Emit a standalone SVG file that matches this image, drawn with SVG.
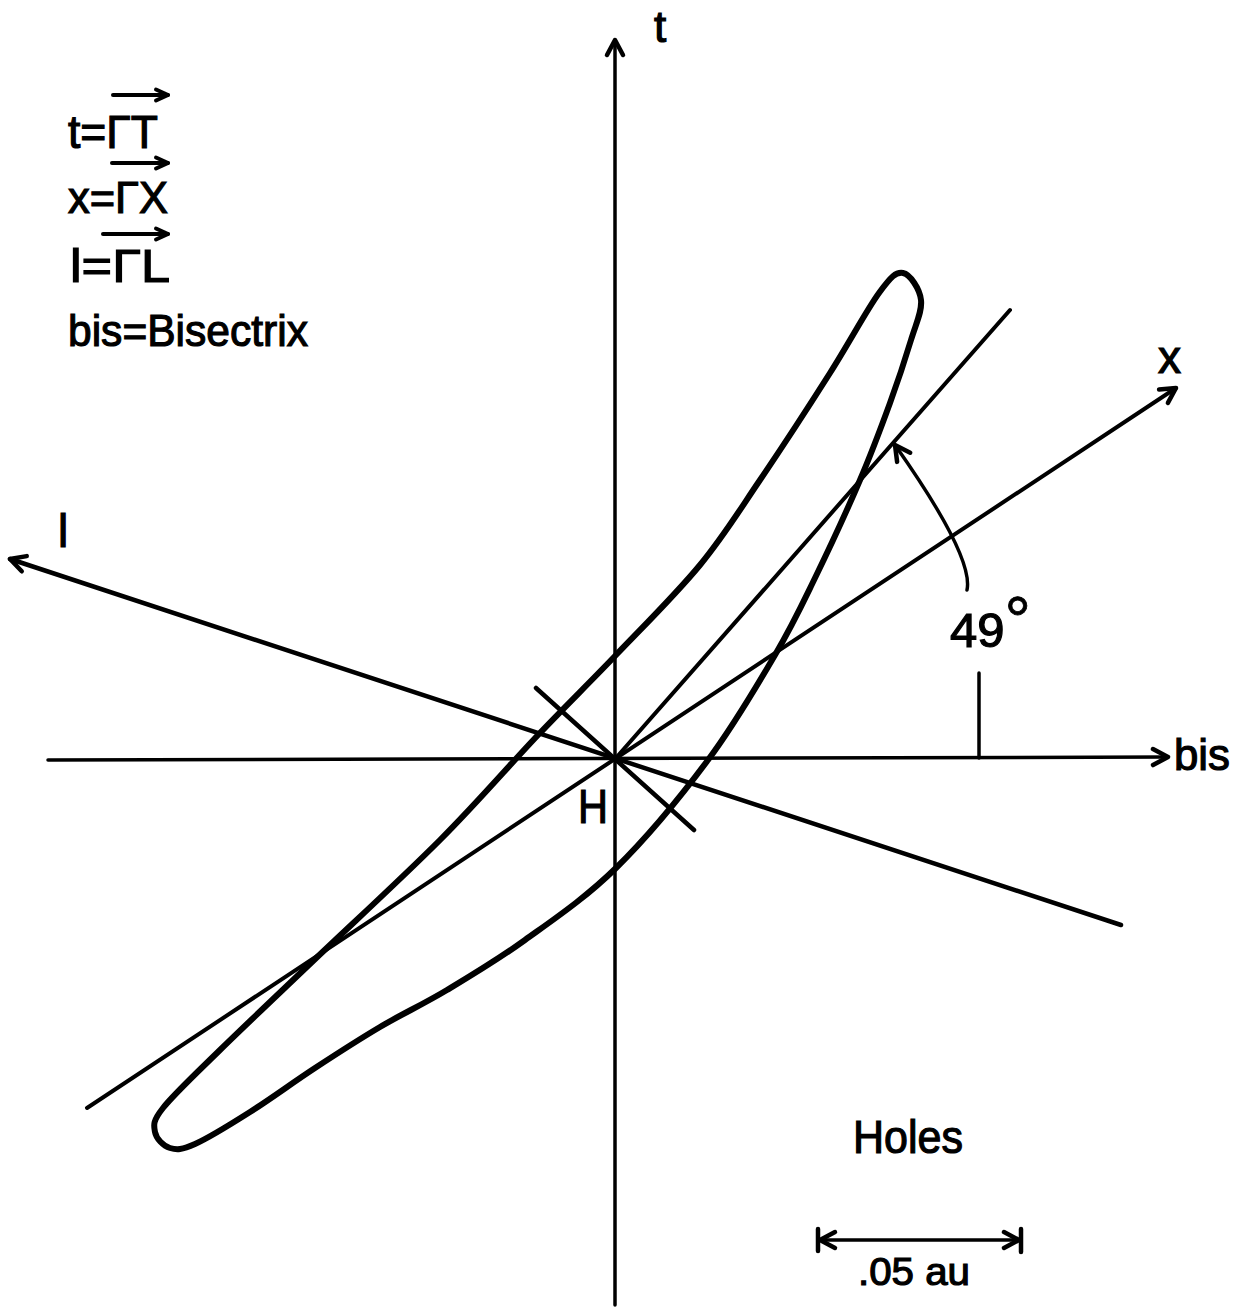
<svg xmlns="http://www.w3.org/2000/svg" width="1233" height="1309" viewBox="0 0 1233 1309">
<style>
.ln{fill:none;stroke:#000;stroke-linecap:round}
.tx{font-family:"Liberation Sans","Arial",sans-serif;fill:#000;stroke:#000;stroke-width:1.2}
</style>
<defs>
<marker id="arr" viewBox="-22 -12 26 24" refX="0" refY="0" markerWidth="26" markerHeight="24" orient="auto-start-reverse" markerUnits="userSpaceOnUse">
<path d="M-15,-8 L0,0 L-15,8" fill="none" stroke="#000" stroke-width="4.5" stroke-linecap="round" stroke-linejoin="round"/>
</marker>
<marker id="arrs" viewBox="-16 -9 20 18" refX="0" refY="0" markerWidth="20" markerHeight="18" orient="auto" markerUnits="userSpaceOnUse">
<path d="M-12,-5.5 L0,0 L-12,5.5" fill="none" stroke="#000" stroke-width="4" stroke-linecap="round" stroke-linejoin="round"/>
</marker>
</defs>
<rect width="1233" height="1309" fill="#fff"/>
<g id="connectors">
<line id="t-axis" class="ln" x1="615" y1="1305" x2="615" y2="40" stroke-width="3.5" marker-end="url(#arr)"/>
<line id="bis-axis" class="ln" x1="48" y1="760" x2="1168" y2="757" stroke-width="3.5" marker-end="url(#arr)"/>
<line id="x-axis" class="ln" x1="87" y1="1108" x2="1176" y2="388" stroke-width="4" marker-end="url(#arr)"/>
<line id="l-axis" class="ln" x1="1121" y1="925" x2="10" y2="559" stroke-width="4.5" marker-end="url(#arr)"/>
<line id="line49" class="ln" x1="615" y1="759" x2="1010" y2="310" stroke-width="4"/>
<line id="cross" class="ln" x1="536" y1="688" x2="694" y2="830" stroke-width="4.5"/>
<path id="angle-arc" class="ln" d="M967,590 Q974,557 895,445" stroke-width="3.5" marker-end="url(#arr)"/>
<line id="angle-tick" class="ln" x1="979" y1="673" x2="979" y2="758" stroke-width="3.5"/>
<line id="scale-bar" class="ln" x1="820" y1="1240" x2="1019" y2="1240" stroke-width="3.5" marker-start="url(#arr)" marker-end="url(#arr)"/>
<line class="ln" x1="818" y1="1229" x2="818" y2="1251" stroke-width="4.5"/>
<line class="ln" x1="1021" y1="1229" x2="1021" y2="1252" stroke-width="4.5"/>
</g>
<g id="fermi-surface">
<path class="ln" stroke-width="6" stroke-linejoin="round" d="M903,273 C910,274.2 919.7,288.8 921,300 C922.3,311.2 916.2,322.8 911,340 C905.8,357.2 898.5,379.7 890,403 C881.5,426.3 872.5,450.8 860,480 C847.5,509.2 829.2,548.8 815,578 C800.8,607.2 792.8,624.7 775,655 C757.2,685.3 734.5,724.5 708,760 C681.5,795.5 646.5,838 616,868 C585.5,898 553.2,919.7 525,940 C496.8,960.3 471.2,975.5 447,990 C422.8,1004.5 402,1014 380,1027 C358,1040 336.7,1053.8 315,1068 C293.3,1082.2 270,1099.3 250,1112 C230,1124.7 208.3,1138 195,1144 C181.7,1150 176.7,1150 170,1148 C163.3,1146 156.2,1138.7 155,1132 C153.8,1125.3 152.2,1121.7 163,1108 C173.8,1094.3 195.2,1074.3 220,1050 C244.8,1025.7 275.3,997 312,962 C348.7,927 402.3,877.8 440,840 C477.7,802.2 508.7,765.8 538,735 C567.3,704.2 589,683.3 616,655 C643,626.7 676,594.2 700,565 C724,535.8 738.3,512 760,480 C781.7,448 810.2,404.2 830,373 C849.8,341.8 866.8,309.7 879,293 C891.2,276.3 896,271.8 903,273 Z"/>
</g>
<g id="legend">
<line class="ln" x1="113" y1="95" x2="168" y2="95" stroke-width="4" marker-end="url(#arrs)"/>
<text class="tx" x="68" y="148" font-size="47" textLength="90" lengthAdjust="spacingAndGlyphs">t=ΓT</text>
<line class="ln" x1="112" y1="163" x2="168" y2="163" stroke-width="4" marker-end="url(#arrs)"/>
<text class="tx" x="68" y="213" font-size="45" textLength="100" lengthAdjust="spacingAndGlyphs">x=ΓX</text>
<line class="ln" x1="103" y1="234" x2="168" y2="234" stroke-width="4" marker-end="url(#arrs)"/>
<text class="tx" x="70" y="282" font-size="47" textLength="100" lengthAdjust="spacingAndGlyphs">l=ΓL</text>
<text class="tx" x="68" y="346" font-size="45" textLength="240" lengthAdjust="spacingAndGlyphs">bis=Bisectrix</text>
</g>
<g id="labels">
<text id="lbl-t" class="tx" x="654" y="42" font-size="44">t</text>
<text id="lbl-x" class="tx" x="1158" y="373" font-size="46">x</text>
<text id="lbl-l" class="tx" x="58" y="547" font-size="46">l</text>
<text id="lbl-bis" class="tx" x="1174" y="770" font-size="45" textLength="56" lengthAdjust="spacingAndGlyphs">bis</text>
<text id="lbl-H" class="tx" x="578" y="823" font-size="48" textLength="30" lengthAdjust="spacingAndGlyphs">H</text>
<text id="lbl-49" class="tx" x="950" y="647" font-size="49">49<tspan dy="-4" font-size="66" stroke-width="0.8">°</tspan></text>
<text id="lbl-holes" class="tx" x="853" y="1153" font-size="47" textLength="110" lengthAdjust="spacingAndGlyphs">Holes</text>
<text id="lbl-scale" class="tx" x="858" y="1285" font-size="39" textLength="112" lengthAdjust="spacingAndGlyphs">.05 au</text>
</g>
</svg>
